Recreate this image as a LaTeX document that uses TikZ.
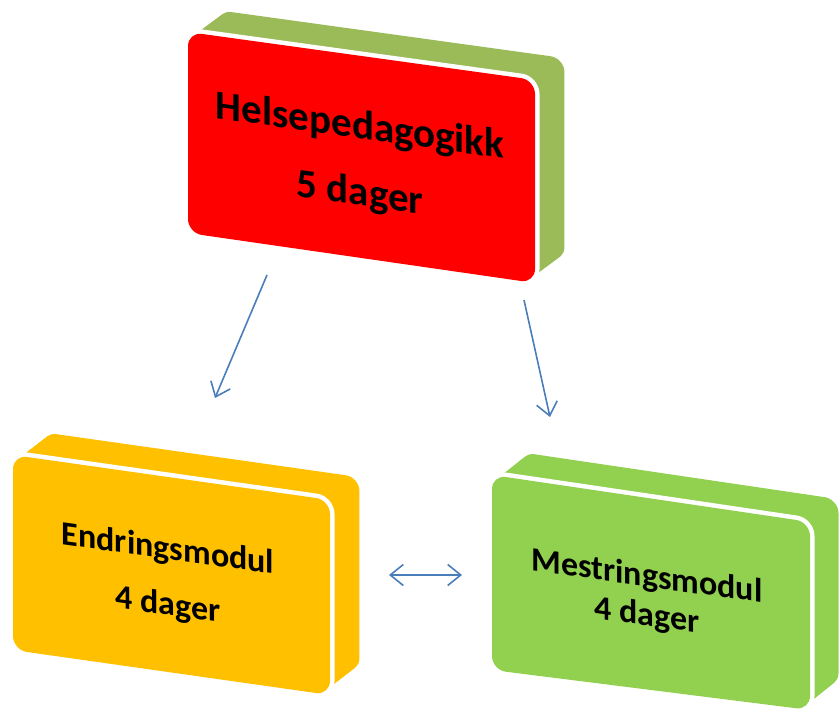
\documentclass[tikz,border=0pt]{standalone}
\usepackage{fontspec}
\setmainfont{Carlito}
\usetikzlibrary{arrows.meta}
\definecolor{hpred}{HTML}{FF0000}
\definecolor{hpside}{HTML}{9BBB59}
\definecolor{emorange}{HTML}{FFC000}
\definecolor{msgreen}{HTML}{92D050}
\definecolor{arrowblue}{HTML}{4A7EBB}
\begin{document}
\begin{tikzpicture}[x=1pt, y=-1pt,
  face/.style={rounded corners=14pt},
  facegap/.style={face, draw=white, line width=9pt},
  boxtext/.style={align=center, yslant=-0.14, inner sep=0pt},
  link/.style={draw=arrowblue, line width=1.6pt},
  >={Straight Barb[length=13pt,width=21pt]}]
\useasboundingbox (0,0) rectangle (839,714);

% Helsepedagogikk
\foreach \t in {0,0.05,...,1}
  \fill[face, hpside, shift={({31*\t},{-23*\t})}] (188,32) -- (535,80) -- (535,283) -- (188,233) -- cycle;
\draw[facegap] (188,32) -- (535,80) -- (535,283) -- (188,233) -- cycle;
\fill[face, hpred] (188,32) -- (535,80) -- (535,283) -- (188,233) -- cycle;
\node[boxtext, font=\bfseries\fontsize{41}{67}\selectfont] (hp) at (360,161) {Helsepedagogikk\\5 dager};

% Endringsmodul
\foreach \t in {0,0.05,...,1}
  \fill[face, emorange, shift={({31*\t},{-24*\t})}] (13,455) -- (330,500) -- (330,695) -- (13,650) -- cycle;
\draw[facegap] (13,455) -- (330,500) -- (330,695) -- (13,650) -- cycle;
\fill[face, emorange] (13,455) -- (330,500) -- (330,695) -- (13,650) -- cycle;
\node[boxtext, font=\bfseries\fontsize{34}{56}\selectfont] (em) at (168,578) {Endringsmodul\\4 dager};

% Mestringsmodul
\foreach \t in {0,0.05,...,1}
  \fill[face, msgreen, shift={({30*\t},{-24*\t})}] (492,475) -- (810,522) -- (810,710) -- (492,670) -- cycle;
\draw[facegap] (492,475) -- (810,522) -- (810,710) -- (492,670) -- cycle;
\fill[face, msgreen] (492,475) -- (810,522) -- (810,710) -- (492,670) -- cycle;
\node[boxtext, font=\bfseries\fontsize{34}{39}\selectfont] (ms) at (647,597) {Mestringsmodul\\4 dager};

% arrows
\coordinate (hp-l) at (267,275);
\coordinate (em-in) at (215,398);
\coordinate (hp-r) at (524,300);
\coordinate (ms-in) at (550,417);
\coordinate (em-r) at (389,575);
\coordinate (ms-l) at (462,575);
\draw[link, ->] (hp-l) -- (em-in);
\draw[link, ->] (hp-r) -- (ms-in);
\draw[link, <->] (em-r) -- (ms-l);
\end{tikzpicture}
\end{document}
